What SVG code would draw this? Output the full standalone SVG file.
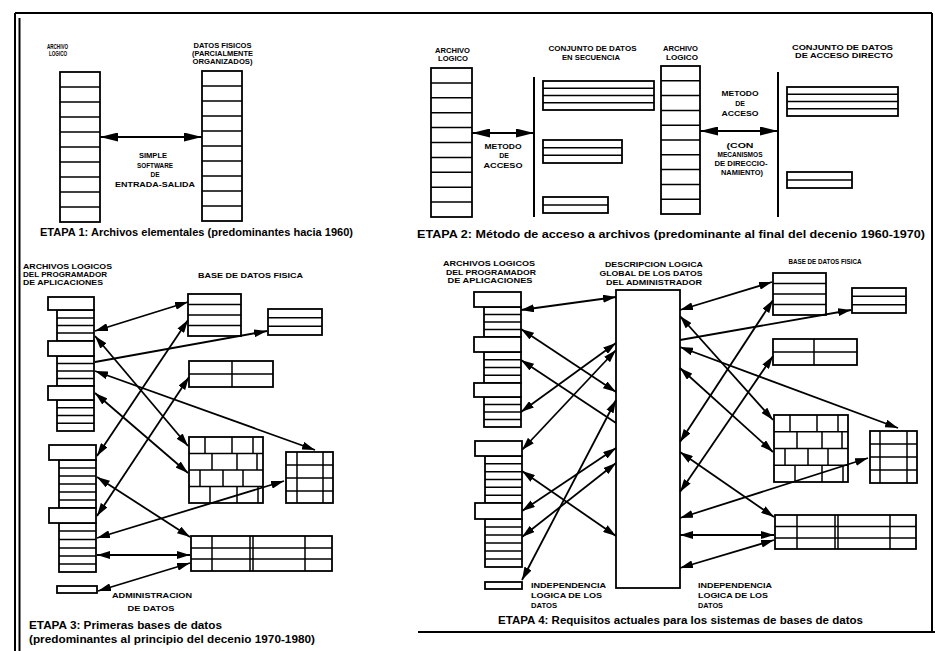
<svg xmlns="http://www.w3.org/2000/svg" width="935" height="651" viewBox="0 0 935 651">
<style>
.bx{fill:#fff;stroke:#000;stroke-width:1.8}
.ln{fill:none;stroke:#000;stroke-width:1.5}
.fr{fill:none;stroke:#000;stroke-width:2}
.ar{fill:none;stroke:#000;stroke-width:1.8;marker-start:url(#ah);marker-end:url(#ah)}
.ar1{fill:none;stroke:#000;stroke-width:1.8;marker-end:url(#ah)}
.arL{fill:none;stroke:#000;stroke-width:2;marker-start:url(#ahL);marker-end:url(#ahL)}
text{font-family:"Liberation Sans",Arial,sans-serif;font-weight:bold;fill:#000}
.s{font-size:7px}
.s6{font-size:6.5px}
.c{text-anchor:middle}
.cap{font-size:10px}
</style>
<defs>
<marker id="ah" viewBox="0 0 13 8" refX="13" refY="4" markerWidth="13" markerHeight="8" markerUnits="userSpaceOnUse" orient="auto-start-reverse"><path d="M0,0L13,4L0,8z"/></marker>
<marker id="ahL" viewBox="0 0 18 9" refX="18" refY="4.5" markerWidth="18" markerHeight="9" markerUnits="userSpaceOnUse" orient="auto-start-reverse"><path d="M0,0L18,4.5L0,9z"/></marker>
</defs>
<rect width="935" height="651" fill="#fff"/>
<g id="frame">
<path class="fr" d="M15,13H932M932,13V632M418,632H935M15,13V651M19.5,18V651"/>
</g>

<!-- ETAPA 1 -->
<g id="e1-archivo-logico">
<text class="s6 c" x="57.5" y="49" textLength="21" lengthAdjust="spacingAndGlyphs">ARCHIVO</text>
<text class="s6 c" x="58" y="55.5" textLength="18" lengthAdjust="spacingAndGlyphs">LOGICO</text>
<rect class="bx" x="60" y="72" width="40" height="150"/>
<path class="ln" d="M60,87h40M60,102h40M60,117h40M60,132h40M60,147h40M60,162h40M60,177h40M60,192h40M60,207h40"/>
</g>
<g id="e1-datos-fisicos">
<text class="s6 c" x="222.5" y="48" textLength="58" lengthAdjust="spacingAndGlyphs">DATOS FISICOS</text>
<text class="s6 c" x="222.5" y="56" textLength="61" lengthAdjust="spacingAndGlyphs">(PARCIALMENTE</text>
<text class="s6 c" x="222.5" y="64" textLength="60" lengthAdjust="spacingAndGlyphs">ORGANIZADOS)</text>
<rect class="bx" x="202" y="71" width="40" height="150"/>
<path class="ln" d="M202,86h40M202,101h40M202,116h40M202,131h40M202,146h40M202,161h40M202,176h40M202,191h40M202,206h40"/>
</g>
<g id="e1-software">
<text class="s6 c" x="153" y="158" textLength="28" lengthAdjust="spacingAndGlyphs">SIMPLE</text>
<text class="s6 c" x="155" y="168" textLength="36" lengthAdjust="spacingAndGlyphs">SOFTWARE</text>
<text class="s6 c" x="155" y="177">DE</text>
<text class="s6 c" x="155" y="187" textLength="80" lengthAdjust="spacingAndGlyphs">ENTRADA-SALIDA</text>
</g>
<text id="e1-caption" class="cap" x="40" y="236" textLength="313" lengthAdjust="spacingAndGlyphs">ETAPA 1: Archivos elementales (predominantes hacia 1960)</text>

<!-- ETAPA 2 -->
<g id="e2-archivo-logico-1">
<text class="s c" x="452.5" y="53" textLength="35" lengthAdjust="spacingAndGlyphs">ARCHIVO</text>
<text class="s c" x="453" y="60.5" textLength="30" lengthAdjust="spacingAndGlyphs">LOGICO</text>
<rect class="bx" x="431" y="68" width="41" height="149"/>
<path class="ln" d="M431,82.9h41M431,97.8h41M431,112.7h41M431,127.6h41M431,142.5h41M431,157.4h41M431,172.3h41M431,187.2h41M431,202.1h41"/>
</g>
<g id="e2-metodo-1">
<text class="s c" x="503" y="149" textLength="37" lengthAdjust="spacingAndGlyphs">METODO</text>
<text class="s c" x="504" y="158">DE</text>
<text class="s c" x="503" y="168" textLength="39" lengthAdjust="spacingAndGlyphs">ACCESO</text>
</g>
<g id="e2-conjunto-secuencia">
<text class="s c" x="592.5" y="51" textLength="88" lengthAdjust="spacingAndGlyphs">CONJUNTO DE DATOS</text>
<text class="s c" x="591" y="59.5" textLength="58" lengthAdjust="spacingAndGlyphs">EN SECUENCIA</text>
<path class="fr" d="M534,77V217"/>
<rect class="bx" x="543" y="81" width="111" height="29"/>
<path class="ln" d="M543,88.2h111M543,95.5h111M543,102.7h111"/>
<rect class="bx" x="543" y="140" width="79" height="23"/>
<path class="ln" d="M543,147.7h79M543,155.3h79"/>
<rect class="bx" x="543" y="197" width="65" height="16"/>
<path class="ln" d="M543,205h65"/>
</g>
<g id="e2-archivo-logico-2">
<text class="s c" x="680.5" y="51" textLength="35" lengthAdjust="spacingAndGlyphs">ARCHIVO</text>
<text class="s c" x="682" y="59.5" textLength="32" lengthAdjust="spacingAndGlyphs">LOGICO</text>
<rect class="bx" x="661" y="66" width="39" height="148"/>
<path class="ln" d="M661,80.8h39M661,95.6h39M661,110.4h39M661,125.2h39M661,140h39M661,154.8h39M661,169.6h39M661,184.4h39M661,199.2h39"/>
</g>
<g id="e2-metodo-2">
<text class="s c" x="740" y="96" textLength="37" lengthAdjust="spacingAndGlyphs">METODO</text>
<text class="s c" x="740" y="106">DE</text>
<text class="s c" x="740" y="116" textLength="37" lengthAdjust="spacingAndGlyphs">ACCESO</text>
<text class="s c" x="740" y="148" textLength="27" lengthAdjust="spacingAndGlyphs">(CON</text>
<text class="s c" x="740" y="157" textLength="45" lengthAdjust="spacingAndGlyphs">MECANISMOS</text>
<text class="s c" x="741" y="166" textLength="53" lengthAdjust="spacingAndGlyphs">DE DIRECCIO-</text>
<text class="s c" x="742" y="175" textLength="42" lengthAdjust="spacingAndGlyphs">NAMIENTO)</text>
</g>
<g id="e2-conjunto-directo">
<text class="s c" x="842.5" y="50" textLength="101" lengthAdjust="spacingAndGlyphs">CONJUNTO DE DATOS</text>
<text class="s c" x="844" y="58" textLength="98" lengthAdjust="spacingAndGlyphs">DE ACCESO DIRECTO</text>
<path class="fr" d="M778,72V217"/>
<rect class="bx" x="787" y="87" width="111" height="29"/>
<path class="ln" d="M787,94.2h111M787,101.5h111M787,108.7h111"/>
<rect class="bx" x="787" y="172" width="65" height="16"/>
<path class="ln" d="M787,180h65"/>
</g>
<text id="e2-caption" class="cap" x="417" y="238" textLength="508" lengthAdjust="spacingAndGlyphs">ETAPA 2: Método de acceso a archivos (predominante al final del decenio 1960-1970)</text>

<!-- ETAPA 3 -->
<g id="e3-archivos-logicos">
<text class="s" x="23" y="269" textLength="89" lengthAdjust="spacingAndGlyphs">ARCHIVOS LOGICOS</text>
<text class="s" x="23" y="277" textLength="84" lengthAdjust="spacingAndGlyphs">DEL PROGRAMADOR</text>
<text class="s" x="23" y="285" textLength="80" lengthAdjust="spacingAndGlyphs">DE APLICACIONES</text>
<rect class="bx" x="57" y="310" width="37" height="31"/>
<path class="ln" d="M57,318h37M57,325.5h37M57,333h37"/>
<rect class="bx" x="48" y="297" width="46" height="13"/>
<rect class="bx" x="57" y="356" width="37" height="30"/>
<path class="ln" d="M57,363.5h37M57,371h37M57,378.5h37"/>
<rect class="bx" x="48" y="341" width="46" height="15"/>
<rect class="bx" x="57" y="400" width="37" height="31"/>
<path class="ln" d="M57,407.7h37M57,415.5h37M57,423.2h37"/>
<rect class="bx" x="48" y="386" width="46" height="14"/>
<rect class="bx" x="59" y="460" width="37" height="48"/>
<path class="ln" d="M59,468h37M59,476h37M59,484h37M59,492h37M59,500h37"/>
<rect class="bx" x="49" y="445" width="47" height="15"/>
<rect class="bx" x="59" y="523" width="37" height="49"/>
<path class="ln" d="M59,531h37M59,539.5h37M59,548h37M59,556h37M59,564h37"/>
<rect class="bx" x="49" y="508" width="47" height="15"/>
</g>
<g id="e3-administracion">
<rect class="bx" x="57" y="586" width="40" height="7"/>
<text class="s c" x="152" y="598" textLength="80" lengthAdjust="spacingAndGlyphs">ADMINISTRACION</text>
<text class="s c" x="151" y="610.5" textLength="47" lengthAdjust="spacingAndGlyphs">DE DATOS</text>
</g>
<text id="e3-base-label" class="s" x="198" y="278" textLength="105" lengthAdjust="spacingAndGlyphs">BASE DE DATOS FISICA</text>
<g id="e3-p1">
<rect class="bx" x="188" y="294" width="53" height="42"/>
<path class="ln" d="M188,304.5h53M188,315h53M188,325.5h53"/>
</g>
<g id="e3-p2">
<rect class="bx" x="268" y="309" width="54" height="26"/>
<path class="ln" d="M268,317.7h54M268,326.3h54"/>
</g>
<g id="e3-p3">
<rect class="bx" x="189" y="361" width="84" height="26"/>
<path class="ln" d="M189,374h84M232,361v26"/>
</g>
<g id="e3-p4">
<rect class="bx" x="189" y="437" width="74" height="66"/>
<path class="ln" d="M189,453.5h74M189,470h74M189,486.5h74M205,437v16.5M232,437v16.5M253,437v16.5M212,453.5v16.5M237,453.5v16.5M257,453.5v16.5M200,470v16.5M223,470v16.5M243,470v16.5M210,486.5v16.5M237,486.5v16.5M258,486.5v16.5"/>
</g>
<g id="e3-p5">
<rect class="bx" x="286" y="452" width="47" height="51"/>
<path class="ln" d="M286,465h47M286,478h47M286,491h47M297,452v51M323,452v51"/>
</g>
<g id="e3-p6">
<rect class="bx" x="191" y="536" width="141" height="35"/>
<path class="ln" d="M191,548h141M191,559h141M212,536v35M250,536v35M253,536v35M305,536v35"/>
</g>
<g id="e3-caption">
<text class="cap" x="29" y="629" textLength="193" lengthAdjust="spacingAndGlyphs">ETAPA 3: Primeras bases de datos</text>
<text class="cap" x="29" y="643" textLength="286" lengthAdjust="spacingAndGlyphs">(predominantes al principio del decenio 1970-1980)</text>
</g>

<!-- ETAPA 4 -->
<g id="e4-archivos-logicos">
<text class="s c" x="489" y="266" textLength="92" lengthAdjust="spacingAndGlyphs">ARCHIVOS LOGICOS</text>
<text class="s c" x="491" y="274.5" textLength="90" lengthAdjust="spacingAndGlyphs">DEL PROGRAMADOR</text>
<text class="s c" x="490" y="283" textLength="85" lengthAdjust="spacingAndGlyphs">DE APLICACIONES</text>
<rect class="bx" x="484" y="307" width="37" height="30"/>
<path class="ln" d="M484,314.5h37M484,322h37M484,329.5h37"/>
<rect class="bx" x="474" y="292" width="47" height="15"/>
<rect class="bx" x="484" y="352" width="37" height="31"/>
<path class="ln" d="M484,359.7h37M484,367.5h37M484,375.2h37"/>
<rect class="bx" x="474" y="337" width="47" height="15"/>
<rect class="bx" x="484" y="397" width="37" height="30"/>
<path class="ln" d="M484,404.5h37M484,412h37M484,419.5h37"/>
<rect class="bx" x="474" y="383" width="47" height="14"/>
<rect class="bx" x="485" y="456" width="37" height="47"/>
<path class="ln" d="M485,463.8h37M485,471.7h37M485,479.5h37M485,487.3h37M485,495.2h37"/>
<rect class="bx" x="475" y="441" width="47" height="15"/>
<rect class="bx" x="485" y="519" width="37" height="48"/>
<path class="ln" d="M485,527h37M485,535h37M485,543h37M485,551h37M485,559h37"/>
<rect class="bx" x="475" y="503" width="47" height="16"/>
<rect class="bx" x="485" y="582" width="37" height="7"/>
</g>
<g id="e4-descripcion-global">
<text class="s c" x="654" y="267" textLength="98" lengthAdjust="spacingAndGlyphs">DESCRIPCION LOGICA</text>
<text class="s c" x="651" y="276" textLength="103" lengthAdjust="spacingAndGlyphs">GLOBAL DE LOS DATOS</text>
<text class="s c" x="654" y="285" textLength="96" lengthAdjust="spacingAndGlyphs">DEL ADMINISTRADOR</text>
<rect class="bx" x="616" y="290" width="64" height="298"/>
</g>
<text id="e4-base-label" class="s c" x="825" y="264" textLength="73" lengthAdjust="spacingAndGlyphs">BASE DE DATOS FISICA</text>
<g id="e4-q1">
<rect class="bx" x="773" y="273" width="53" height="42"/>
<path class="ln" d="M773,283.5h53M773,294h53M773,304.5h53"/>
</g>
<g id="e4-q2">
<rect class="bx" x="852" y="288" width="54" height="25"/>
<path class="ln" d="M852,296.3h54M852,304.7h54"/>
</g>
<g id="e4-q3">
<rect class="bx" x="773" y="339" width="84" height="26"/>
<path class="ln" d="M773,352h84M814,339v26"/>
</g>
<g id="e4-q4">
<rect class="bx" x="774" y="415" width="74" height="67"/>
<path class="ln" d="M774,431.7h74M774,448.5h74M774,465.2h74M790,415v16.7M817,415v16.7M838,415v16.7M797,431.7v16.8M822,431.7v16.8M842,431.7v16.8M785,448.5v16.7M808,448.5v16.7M828,448.5v16.7M795,465.2v16.8M822,465.2v16.8M843,465.2v16.8"/>
</g>
<g id="e4-q5">
<rect class="bx" x="870" y="431" width="47" height="52"/>
<path class="ln" d="M870,444h47M870,457h47M870,470h47M880,431v52M907,431v52"/>
</g>
<g id="e4-q6">
<rect class="bx" x="775" y="515" width="141" height="34"/>
<path class="ln" d="M775,526.5h141M775,538h141M797,515v34M835,515v34M838,515v34M890,515v34"/>
</g>
<g id="e4-independencia-1">
<text class="s" x="531" y="588" textLength="75" lengthAdjust="spacingAndGlyphs">INDEPENDENCIA</text>
<text class="s" x="531" y="598" textLength="71" lengthAdjust="spacingAndGlyphs">LOGICA DE LOS</text>
<text class="s" x="531" y="608" textLength="26" lengthAdjust="spacingAndGlyphs">DATOS</text>
</g>
<g id="e4-independencia-2">
<text class="s" x="698" y="588" textLength="74" lengthAdjust="spacingAndGlyphs">INDEPENDENCIA</text>
<text class="s" x="698" y="598" textLength="70" lengthAdjust="spacingAndGlyphs">LOGICA DE LOS</text>
<text class="s" x="698" y="608" textLength="25" lengthAdjust="spacingAndGlyphs">DATOS</text>
</g>
<text id="e4-caption" class="cap" x="498" y="624" textLength="365" lengthAdjust="spacingAndGlyphs">ETAPA 4: Requisitos actuales para los sistemas de bases de datos</text>

<g id="connectors">
<line class="arL" x1="100" y1="137" x2="202" y2="137"/>
<line class="arL" x1="472" y1="133" x2="534" y2="133"/>
<line class="arL" x1="700" y1="131" x2="778" y2="131"/>
<!-- etapa 3 -->
<line class="ar" x1="95" y1="331" x2="188" y2="302"/>
<line class="ar" x1="95" y1="336" x2="188" y2="446"/>
<line class="ar1" x1="95" y1="362" x2="267" y2="331"/>
<line class="ar" x1="95" y1="371" x2="315" y2="450"/>
<line class="ar" x1="95" y1="393" x2="188" y2="473"/>
<line class="ar" x1="97" y1="456" x2="188" y2="320"/>
<line class="ar" x1="97" y1="477" x2="190" y2="537"/>
<line class="ar" x1="97" y1="516" x2="189" y2="377"/>
<line class="ar" x1="97" y1="538" x2="284" y2="481"/>
<line class="ar" x1="97" y1="555" x2="190" y2="555"/>
<line class="ar" x1="98" y1="591" x2="190" y2="563"/>
<!-- etapa 4 left -->
<line class="ar" x1="521" y1="310" x2="616" y2="297"/>
<line class="ar" x1="521" y1="329" x2="616" y2="392"/>
<line class="ar1" x1="616" y1="423" x2="521" y2="360"/>
<line class="ar" x1="521" y1="412" x2="616" y2="343"/>
<line class="ar" x1="522" y1="450" x2="616" y2="350"/>
<line class="ar" x1="522" y1="471" x2="616" y2="536"/>
<line class="ar" x1="522" y1="511" x2="616" y2="448"/>
<line class="ar" x1="522" y1="537" x2="616" y2="463"/>
<line class="ar" x1="522" y1="580" x2="616" y2="400"/>
<!-- etapa 4 right -->
<line class="ar" x1="680" y1="310" x2="772" y2="282"/>
<line class="ar" x1="680" y1="316" x2="773" y2="420"/>
<line class="ar1" x1="680" y1="340" x2="851" y2="310"/>
<line class="ar" x1="680" y1="347" x2="898" y2="428"/>
<line class="ar" x1="680" y1="368" x2="773" y2="452"/>
<line class="ar" x1="773" y1="300" x2="680" y2="442"/>
<line class="ar" x1="773" y1="356" x2="680" y2="492"/>
<line class="ar" x1="680" y1="452" x2="774" y2="517"/>
<line class="ar" x1="868" y1="458" x2="680" y2="518"/>
<line class="ar" x1="680" y1="535" x2="774" y2="535"/>
<line class="ar" x1="774" y1="540" x2="680" y2="568"/>
</g>
</svg>
